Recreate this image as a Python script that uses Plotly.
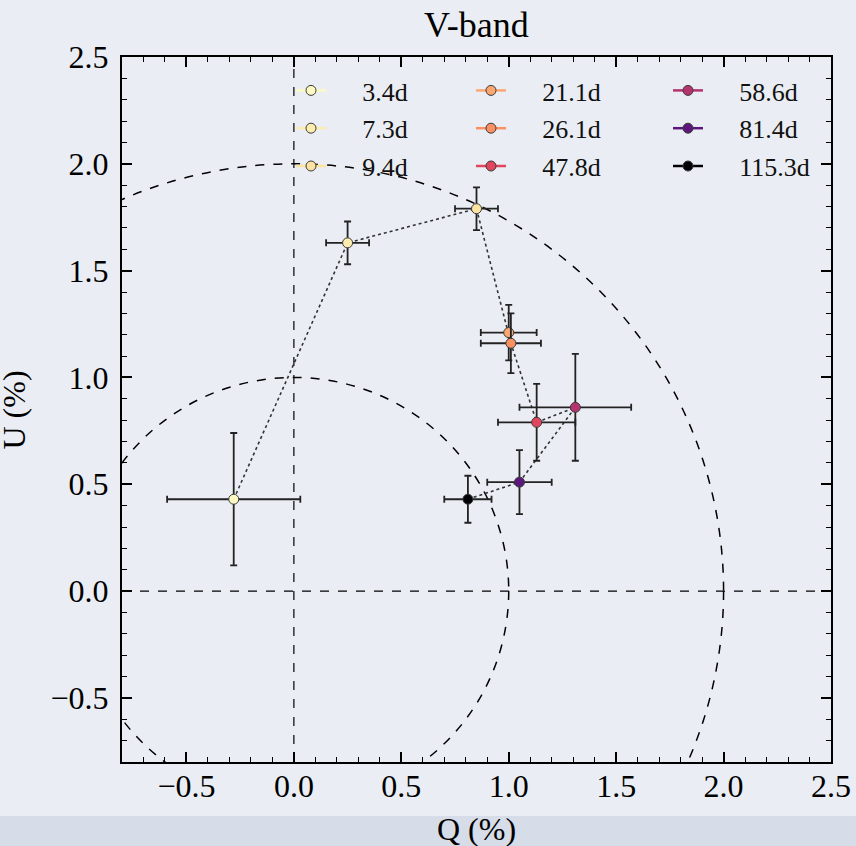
import plotly.graph_objects as go

# ---- data ----
epochs = ["3.4d", "7.3d", "9.4d", "21.1d", "26.1d", "47.8d", "58.6d", "81.4d", "115.3d"]
q_vals = [-0.28, 0.25, 0.85, 1.00, 1.01, 1.13, 1.31, 1.05, 0.81]
u_vals = [0.43, 1.63, 1.79, 1.21, 1.16, 0.79, 0.86, 0.51, 0.43]
q_errs = [0.31, 0.10, 0.10, 0.13, 0.14, 0.18, 0.26, 0.15, 0.11]
u_errs = [0.31, 0.10, 0.10, 0.13, 0.14, 0.18, 0.25, 0.15, 0.11]
colors = ["#fcf9c2", "#fcedae", "#fde3a1", "#fca672", "#fb9162", "#e2465f", "#b5346f", "#5d177c", "#000004"]
legend_cols = ["legend", "legend", "legend", "legend2", "legend2", "legend2", "legend3", "legend3", "legend3"]
tick_vals = [-0.5, 0.0, 0.5, 1.0, 1.5, 2.0, 2.5]
circle_radii = [1.0, 2.0]

FONT = "Liberation Serif, Times New Roman, serif"
BG = "#eaeef4"
BAND = "#d6dce8"

W, H = 856, 846
L, R, T, B = 122, 25, 57, 84
PW, PH = W - L - R, H - T - B


def px_x(p):
    return (p - L) / PW


def px_y(p):
    return (H - B - p) / PH


fig = go.Figure()

# dotted path connecting epochs
fig.add_trace(go.Scatter(x=q_vals, y=u_vals, mode="lines",
                         line=dict(color="#333333", width=1.6, dash="dot"),
                         showlegend=False, hoverinfo="skip"))

# data points with error bars
for i, lab in enumerate(epochs):
    fig.add_trace(go.Scatter(
        x=[q_vals[i]], y=[u_vals[i]], mode="markers", showlegend=False,
        marker=dict(size=10, color=colors[i], line=dict(color="#3a3a3a", width=1)),
        error_x=dict(type="data", array=[q_errs[i]], color="#222222", thickness=1.8, width=3.5),
        error_y=dict(type="data", array=[u_errs[i]], color="#222222", thickness=1.8, width=3.5),
        name=lab))

# legend entries
for i, lab in enumerate(epochs):
    fig.add_trace(go.Scatter(
        x=[None], y=[None], mode="lines+markers", name="\u2003\u2009" + lab,
        legend=legend_cols[i], legendgroup=lab,
        line=dict(color=colors[i], width=2.5),
        marker=dict(size=10, color=colors[i], line=dict(color="#3a3a3a", width=1))))

shapes = []
for r in circle_radii:
    shapes.append(dict(type="circle", xref="x", yref="y", x0=-r, y0=-r, x1=r, y1=r,
                       line=dict(color="black", width=1.5, dash="dash"), layer="below"))
shapes.append(dict(type="line", xref="x", yref="paper", x0=0, x1=0, y0=0, y1=1,
                   line=dict(color="black", width=1.2, dash="dash"), layer="below"))
shapes.append(dict(type="line", xref="paper", yref="y", x0=0, x1=1, y0=0, y1=0,
                   line=dict(color="black", width=1.2, dash="dash"), layer="below"))
# bottom band
shapes.append(dict(type="rect", xref="paper", yref="paper",
                   x0=px_x(-10), x1=px_x(W + 10), y0=px_y(H + 10), y1=px_y(816),
                   fillcolor=BAND, line=dict(width=0), layer="below"))

axis_common = dict(
    range=[-0.8, 2.5], tickvals=tick_vals, tickformat=".1f",
    ticks="inside", ticklen=10, tickwidth=1.5, tickcolor="black",
    showline=True, linecolor="black", linewidth=2, mirror="allticks",
    showgrid=False, zeroline=False, automargin=False,
    tickfont=dict(family=FONT, size=32, color="black"),
    minor=dict(dtick=0.1, ticks="inside", ticklen=5, tickwidth=1.2, tickcolor="black", showgrid=False),
)

legend_common = dict(bgcolor="rgba(0,0,0,0)", borderwidth=0, xanchor="left", yanchor="top",
                     font=dict(family=FONT, size=26, color="#111111"),
                     traceorder="grouped", tracegroupgap=1, itemwidth=30)

fig.update_layout(
    width=W, height=H, autosize=False,
    margin=dict(l=L, r=R, t=T, b=B, autoexpand=False),
    paper_bgcolor=BG, plot_bgcolor=BG,
    xaxis=dict(**axis_common, ticklabelstandoff=-5),
    yaxis=dict(**axis_common, ticklabelstandoff=5),
    shapes=shapes,
    legend=dict(**legend_common, x=px_x(291), y=px_y(67)),
    legend2=dict(**legend_common, x=px_x(471), y=px_y(67)),
    legend3=dict(**legend_common, x=px_x(668), y=px_y(67)),
    annotations=[
        dict(text="V-band", xref="paper", yref="paper", x=0.5, y=px_y(25),
             xanchor="center", yanchor="middle", showarrow=False,
             font=dict(family=FONT, size=36, color="black")),
        dict(text="Q (%)", xref="paper", yref="paper", x=0.5, y=px_y(829),
             xanchor="center", yanchor="middle", showarrow=False,
             font=dict(family=FONT, size=32, color="black")),
        dict(text="U (%)", xref="paper", yref="paper", x=px_x(33), y=0.5,
             xanchor="right", yanchor="middle", textangle=-90, showarrow=False,
             font=dict(family=FONT, size=32, color="black")),
        dict(text="U (%)", xref="paper", yref="paper", x=px_x(851), y=0.5,
             xanchor="left", yanchor="middle", textangle=-90, showarrow=False,
             font=dict(family=FONT, size=32, color="black")),
    ],
    showlegend=True,
)

fig.write_html(
    "out.html",
    config={"displayModeBar": False},
    post_script="document.body.style.margin='0';document.body.style.overflow='hidden';"
                "document.body.style.background='" + BG + "';",
)
